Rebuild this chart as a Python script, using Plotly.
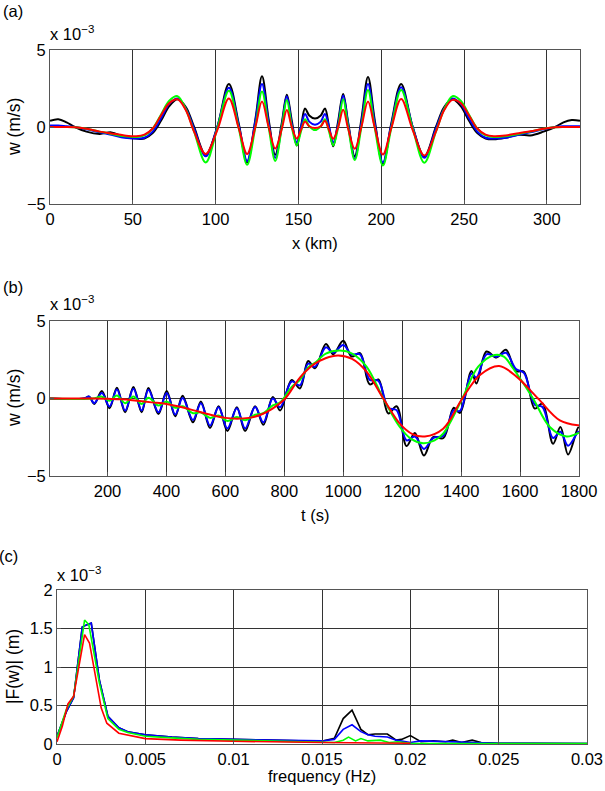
import plotly.graph_objects as go

# ---------------- data (w in units of 1e-3 m/s, |F| in 1e-3 m) ----------------
# (a) spatial profile
xa_km = [0, 5, 10, 15, 22, 30, 37, 45, 52, 57, 62, 67, 72, 77, 82, 87, 94, 101, 108, 114,
         119, 124, 128, 132, 136, 140, 143, 146, 149, 151.5, 154, 156.5, 160, 163.5, 166,
         168.5, 171, 174, 177, 180, 184, 188, 192, 196, 201, 206, 212, 219, 226, 233, 238,
         243, 248, 253, 258, 263, 268, 275, 283, 290, 298, 305, 310, 315, 320]
wa_black = [0.4, 0.5, 0.3, 0.0, -0.3, -0.45, -0.35, -0.65, -0.75, -0.75, -0.4, 0.4, 1.35, 1.8,
            1.3, 0.0, -1.8, 0.0, 2.8, 0.2, -2.3, 0.5, 3.3, 0.5, -1.8, 0.3, 2.1, 0.4, -1.2, 0.0,
            1.2, 0.75, 0.55, 0.75, 1.2, 0.0, -1.25, 0.4, 2.15, 0.3, -1.9, 0.5, 3.25, 0.5, -2.4,
            0.2, 2.8, 0.0, -1.9, 0.0, 1.3, 1.8, 1.35, 0.4, -0.4, -0.75, -0.8, -0.7, -0.5, -0.55,
            -0.3, 0.0, 0.3, 0.45, 0.4]
wa_blue = [0.1, 0.1, 0.05, 0.0, -0.15, -0.35, -0.5, -0.7, -0.75, -0.7, -0.3, 0.55, 1.5, 1.85,
           1.2, -0.1, -1.9, 0.0, 2.55, 0.1, -2.2, 0.4, 2.8, 0.3, -2.0, 0.1, 2.0, 0.2, -1.0, 0.0,
           0.85, 0.35, 0.15, 0.35, 0.85, 0.0, -1.0, 0.2, 2.05, 0.2, -2.05, 0.3, 2.8, 0.3, -2.3,
           0.1, 2.58, 0.0, -2.0, -0.1, 1.2, 1.85, 1.5, 0.55, -0.3, -0.7, -0.75, -0.7, -0.5,
           -0.35, -0.15, 0.0, 0.05, 0.05, 0.05]
wa_green = [0.0, 0.0, 0.0, -0.02, -0.12, -0.3, -0.45, -0.6, -0.65, -0.55, -0.1, 0.8, 1.7, 2.0,
            1.15, -0.3, -2.3, -0.1, 2.35, -0.1, -2.45, 0.0, 2.3, 0.0, -2.2, 0.0, 1.75, 0.0, -1.2,
            -0.3, 0.5, 0.05, -0.2, 0.05, 0.5, -0.3, -1.2, 0.0, 1.8, 0.0, -2.15, 0.0, 2.4, 0.0,
            -2.5, -0.1, 2.4, -0.1, -2.32, -0.3, 1.15, 2.0, 1.7, 0.8, -0.1, -0.55, -0.65, -0.6,
            -0.45, -0.3, -0.12, -0.02, 0.0, 0.0, 0.0]
wa_red = [0.0, 0.0, 0.0, -0.02, -0.12, -0.3, -0.42, -0.55, -0.6, -0.5, -0.1, 0.75, 1.55, 1.8,
          1.1, -0.3, -1.75, -0.2, 1.85, -0.1, -1.75, 0.0, 1.65, 0.0, -1.4, -0.1, 1.1, 0.0,
          -0.75, -0.2, 0.35, 0.05, -0.06, 0.05, 0.4, -0.2, -0.77, 0.0, 1.12, -0.1, -1.42, 0.0,
          1.65, 0.0, -1.78, -0.1, 1.82, -0.2, -1.85, -0.3, 1.1, 1.76, 1.55, 0.75, -0.1, -0.5,
          -0.6, -0.55, -0.4, -0.28, -0.12, -0.02, 0.0, 0.0, 0.0]

# (b) time series
tb_osc = [0, 120, 138, 155, 181, 207, 232, 260, 288, 316, 339, 373, 401, 430, 455, 490, 517,
          548, 577, 607, 639, 667, 701, 729, 761, 786, 825, 853, 881, 904, 941, 966, 1000,
          1028, 1057, 1090, 1119, 1153, 1181, 1215, 1243, 1274, 1305, 1340, 1375, 1396, 1435,
          1452, 1486, 1520, 1552, 1586, 1613, 1650, 1676, 1712, 1737, 1763, 1797, 1800]
wb_black = [0, 0, 0.12, -0.35, 0.48, -0.63, 0.69, -0.89, 0.74, -0.89, 0.67, -1.0, 0.48, -1.15,
            0.17, -1.54, -0.2, -1.9, -0.5, -2.1, -0.56, -2.1, -0.5, -1.7, 0.09, -0.78, 1.2, 0.65,
            2.42, 1.95, 3.51, 2.86, 3.72, 2.71, 2.92, 0.91, 1.23, -0.97, -0.5, -3.07, -2.23,
            -3.68, -2.49, -2.55, -0.6, -0.93, 1.77, 0.97, 3.03, 2.64, 3.14, 1.77, 1.73, -0.65,
            -0.32, -2.92, -1.84, -3.61, -1.88, -1.9]
wb_blue = [0, 0, 0.12, -0.3, 0.35, -0.52, 0.58, -0.78, 0.63, -0.78, 0.56, -0.89, 0.35, -1.04,
           0.04, -1.39, -0.3, -1.75, -0.56, -1.93, -0.63, -1.93, -0.55, -1.54, 0.0, -0.56, 1.1,
           0.85, 2.25, 2.05, 3.3, 2.95, 3.45, 2.85, 2.85, 1.2, 1.15, -0.6, -0.75, -2.7, -2.45,
           -3.25, -2.55, -2.4, -0.75, -0.8, 1.6, 1.35, 2.85, 2.7, 2.95, 1.9, 1.65, -0.4, -0.55,
           -2.55, -2.15, -3.05, -2.15, -2.15]
tb_green = [0, 150, 181, 207, 232, 260, 288, 316, 339, 373, 401, 430, 455, 490, 517, 548, 577,
            607, 639, 667, 701, 729, 761, 786, 825, 853, 881, 904, 941, 989, 1030, 1079, 1136,
            1192, 1230, 1271, 1310, 1339, 1404, 1458, 1514, 1545, 1576, 1644, 1701, 1758, 1797,
            1800]
wb_green = [0, 0, 0.12, -0.15, 0.2, -0.3, 0.13, -0.35, 0.05, -0.45, -0.2, -0.6, -0.5, -0.95,
            -0.9, -1.25, -1.1, -1.45, -1.2, -1.4, -1.05, -0.95, -0.45, -0.25, 0.75, 1.2, 2.0,
            2.3, 2.9, 3.1, 2.9, 2.06, 0.0, -1.84, -2.6, -2.88, -2.7, -2.27, 0.0, 2.06, 2.81,
            2.7, 1.95, 0.0, -1.84, -2.45, -2.23, -2.2]
tb_red = [0, 150, 200, 250, 300, 350, 400, 450, 500, 550, 600, 640, 680, 720, 760, 803, 853,
          900, 940, 983, 1030, 1079, 1136, 1192, 1235, 1277, 1339, 1404, 1464, 1529, 1588,
          1661, 1735, 1797, 1800]
wb_red = [0, 0, -0.02, -0.05, -0.15, -0.25, -0.35, -0.55, -0.8, -1.05, -1.25, -1.3, -1.25,
          -1.05, -0.65, 0.0, 1.35, 2.2, 2.6, 2.77, 2.55, 1.73, 0.0, -1.62, -2.3, -2.45, -1.95,
          0.0, 1.52, 2.1, 1.41, 0.0, -1.41, -1.73, -1.73]

# (c) spectra
fc_black = [0, 0.00053, 0.00094, 0.00143, 0.0017, 0.00194, 0.0024, 0.00288, 0.0035, 0.004,
            0.005, 0.0065, 0.008, 0.01, 0.012, 0.0137, 0.0151, 0.0157, 0.0162, 0.0167, 0.0172,
            0.0176, 0.018, 0.0187, 0.0192, 0.0195, 0.02, 0.0206, 0.0213, 0.022, 0.0224,
            0.0229, 0.0235, 0.024, 0.025, 0.027, 0.03]
Fc_black = [0.1, 0.42, 0.6, 1.52, 1.55, 1.57, 0.83, 0.36, 0.21, 0.16, 0.12, 0.09, 0.07, 0.056,
            0.05, 0.043, 0.043, 0.073, 0.33, 0.44, 0.19, 0.12, 0.13, 0.13, 0.05, 0.06, 0.11,
            0.03, 0.04, 0.03, 0.05, 0.02, 0.05, 0.02, 0.01, 0.01, 0.005]
fc_blue = [0, 0.00053, 0.00094, 0.00143, 0.0017, 0.00194, 0.0024, 0.00288, 0.0035, 0.004,
           0.005, 0.0065, 0.008, 0.01, 0.012, 0.015, 0.0157, 0.0162, 0.0167, 0.0172, 0.0176,
           0.018, 0.0187, 0.0192, 0.02, 0.0206, 0.0213, 0.022, 0.025, 0.03]
Fc_blue = [0.1, 0.42, 0.6, 1.52, 1.55, 1.57, 0.83, 0.36, 0.21, 0.16, 0.12, 0.09, 0.07, 0.056,
           0.05, 0.04, 0.06, 0.19, 0.25, 0.16, 0.12, 0.1, 0.09, 0.05, 0.02, 0.04, 0.035, 0.03,
           0.01, 0.005]
fc_green = [0, 0.00053, 0.00094, 0.00156, 0.0018, 0.0024, 0.00288, 0.0035, 0.004, 0.005,
            0.0065, 0.008, 0.01, 0.012, 0.015, 0.0157, 0.0162, 0.0165, 0.0169, 0.0172, 0.0176,
            0.0183, 0.0188, 0.0193, 0.02, 0.025, 0.03]
Fc_green = [0.08, 0.45, 0.62, 1.61, 1.55, 0.79, 0.33, 0.19, 0.15, 0.1, 0.08, 0.06, 0.05, 0.04,
            0.03, 0.02, 0.05, 0.09, 0.04, 0.07, 0.04, 0.05, 0.02, 0.03, 0.01, 0.005, 0.005]
fc_red = [0, 0.0003, 0.00062, 0.00094, 0.00156, 0.00184, 0.0025, 0.00282, 0.0035, 0.005,
          0.007, 0.01, 0.015, 0.02]
Fc_red = [0.03, 0.23, 0.52, 0.62, 1.42, 1.31, 0.47, 0.27, 0.14, 0.07, 0.05, 0.035, 0.02, 0.01]

xa_ticks = [0, 50, 100, 150, 200, 250, 300]
tb_ticks = [200, 400, 600, 800, 1000, 1200, 1400, 1600, 1800]
fc_ticks = [0, 0.005, 0.01, 0.015, 0.02, 0.025, 0.03]
fc_ticktext = ["0", "0.005", "0.01", "0.015", "0.02", "0.025", "0.03"]
w_ticks = [-5, 0, 5]
F_ticks = [0, 0.5, 1, 1.5, 2]
F_ticktext = ["0", "0.5", "1", "1.5", "2"]

# ---------------- figure ----------------
W, H = 605, 791
FONT = "Liberation Sans, Arial, Helvetica, sans-serif"
FS = 16.5
colors = ["#000000", "#0000ff", "#00ff00", "#ff0000"]


def px_x(p):
    return p / W


def px_y(p):
    return 1 - p / H


fig = go.Figure()

series_a = [wa_black, wa_blue, wa_green, wa_red]
for ys, c in zip(series_a, colors):
    fig.add_trace(go.Scatter(x=xa_km, y=ys, mode="lines", xaxis="x", yaxis="y",
                             line=dict(color=c, width=2, shape="spline", smoothing=1.0),
                             showlegend=False, hoverinfo="skip"))

series_b = [(tb_osc, wb_black), (tb_osc, wb_blue), (tb_green, wb_green), (tb_red, wb_red)]
for (xs, ys), c in zip(series_b, colors):
    fig.add_trace(go.Scatter(x=xs, y=ys, mode="lines", xaxis="x2", yaxis="y2",
                             line=dict(color=c, width=2, shape="spline", smoothing=1.0),
                             showlegend=False, hoverinfo="skip"))

series_c = [(fc_black, Fc_black), (fc_blue, Fc_blue), (fc_green, Fc_green), (fc_red, Fc_red)]
for (xs, ys), c in zip(series_c, colors):
    fig.add_trace(go.Scatter(x=xs, y=ys, mode="lines", xaxis="x3", yaxis="y3",
                             line=dict(color=c, width=1.6),
                             showlegend=False, hoverinfo="skip"))

axis_common = dict(showline=True, linecolor="#555555", linewidth=1, mirror=True,
                   showgrid=True, gridcolor="#333333", gridwidth=0.8, zeroline=False,
                   ticks="inside", ticklen=4, tickcolor="#555555", automargin=False,
                   tickfont=dict(family=FONT, size=FS, color="#000000"))

fig.update_layout(
    width=W, height=H, autosize=False,
    margin=dict(l=0, r=0, t=0, b=0, pad=0),
    paper_bgcolor="white", plot_bgcolor="white",
    xaxis=dict(domain=[px_x(50), px_x(580)], range=[0, 320], tickvals=xa_ticks,
               anchor="y", **axis_common),
    yaxis=dict(domain=[px_y(204), px_y(50)], range=[-5, 5], tickvals=w_ticks,
               anchor="x", **axis_common),
    xaxis2=dict(domain=[px_x(50), px_x(579)], range=[5, 1800], tickvals=tb_ticks,
                anchor="y2", **axis_common),
    yaxis2=dict(domain=[px_y(476), px_y(321)], range=[-5, 5], tickvals=w_ticks,
                anchor="x2", **axis_common),
    xaxis3=dict(domain=[px_x(57), px_x(587)], range=[0, 0.03], tickvals=fc_ticks,
                ticktext=fc_ticktext, anchor="y3", **axis_common),
    yaxis3=dict(domain=[px_y(744), px_y(590)], range=[0, 2], tickvals=F_ticks,
                ticktext=F_ticktext, anchor="x3", **axis_common),
)


def add_text(text, x, y, xanchor="center", yanchor="middle", angle=0, size=FS):
    fig.add_annotation(text=text, x=px_x(x), y=px_y(y), xref="paper", yref="paper",
                       xanchor=xanchor, yanchor=yanchor, showarrow=False,
                       font=dict(family=FONT, size=size, color="#000000"), textangle=angle)


# panel labels
add_text("(a)", 13, 11)
add_text("(b)", 13, 287)
add_text("(c)", 8, 556)
# exponent labels
add_text("x 10<sup>\u22123</sup>", 48, 45, xanchor="left", yanchor="bottom")
add_text("x 10<sup>\u22123</sup>", 48, 315, xanchor="left", yanchor="bottom")
add_text("x 10<sup>\u22123</sup>", 55, 586, xanchor="left", yanchor="bottom")
# axis titles
add_text("x (km)", 315, 243)
add_text("t (s)", 315, 515)
add_text("frequency (Hz)", 322, 776)
add_text("w (m/s)", 14, 127, angle=-90, size=17.5)
add_text("w (m/s)", 14, 398, angle=-90, size=17.5)
add_text("|F(w)| (m)", 13, 667, angle=-90, size=17.5)

fig.write_html("out.html", config={"displayModeBar": False},
               post_script="document.body.style.margin='0px';"
                           "document.body.style.overflow='hidden';")
